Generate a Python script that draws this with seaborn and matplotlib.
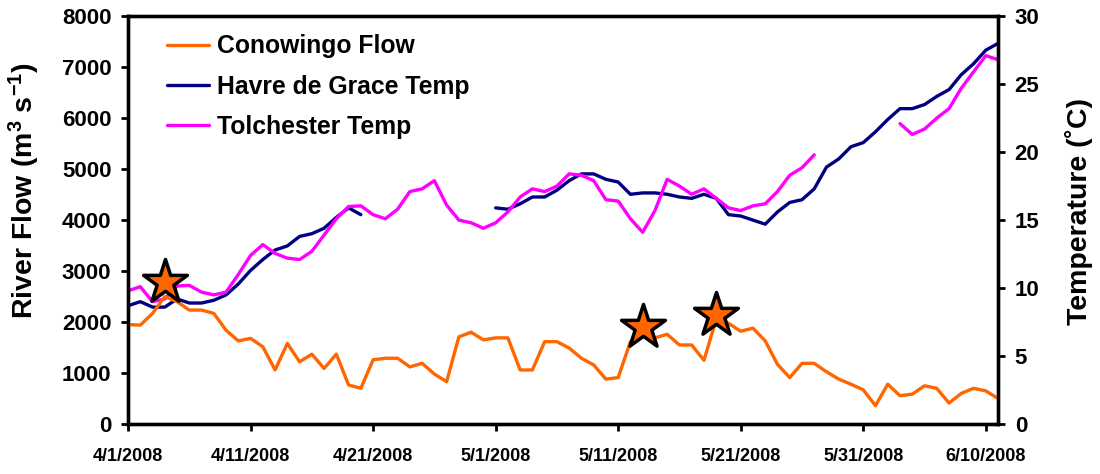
import matplotlib
matplotlib.use("Agg")
import matplotlib.pyplot as plt
from matplotlib.lines import Line2D
import numpy as np
import pandas as pd
import seaborn as sns

# daily values, 4/1/2008 .. 6/11/2008
dates = pd.date_range("2008-04-01", "2008-06-11", freq="D")

conowingo_flow = [
    1950, 1940, 2170, 2500, 2400, 2235, 2235, 2170, 1840, 1630,
    1680, 1515, 1060, 1580, 1220, 1370, 1090, 1370, 765, 700,
    1260, 1290, 1290, 1120, 1190, 980, 830, 1710, 1800, 1650,
    1690, 1690, 1060, 1060, 1615, 1615, 1490, 1290, 1160, 880,
    910, 1615, 1800, 1690, 1760, 1550, 1550, 1250, 2050, 1975,
    1820, 1880, 1630, 1170, 910, 1190, 1190, 1025, 880, 780,
    670, 360, 780, 555, 585, 750, 700, 410, 600, 700,
    650, 500,
]

nan = np.nan
havre_temp = [
    8.7, 9.0, 8.6, 8.6, 9.2, 8.9, 8.9, 9.1, 9.5, 10.3,
    11.3, 12.1, 12.8, 13.1, 13.8, 14.0, 14.4, 15.2, 15.9, 15.4,
    nan, nan, nan, nan, nan, nan, nan, nan, nan, nan,
    15.9, 15.8, 16.2, 16.7, 16.7, 17.2, 17.9, 18.4, 18.4, 18.0,
    17.8, 16.9, 17.0, 17.0, 16.9, 16.7, 16.6, 16.9, 16.6, 15.4,
    15.3, 15.0, 14.7, 15.6, 16.3, 16.5, 17.3, 18.9, 19.5, 20.4,
    20.7, 21.5, 22.4, 23.2, 23.2, 23.5, 24.1, 24.6, 25.7, 26.5,
    27.5, 28.0,
]

tolchester_temp = [
    9.8, 10.1, 9.0, 9.2, 10.15, 10.2, 9.7, 9.5, 9.7, 11.0,
    12.4, 13.2, 12.55, 12.2, 12.1, 12.7, 13.9, 15.1, 16.0, 16.05,
    15.4, 15.1, 15.8, 17.1, 17.3, 17.9, 16.1, 15.0, 14.8, 14.4,
    14.8, 15.6, 16.7, 17.3, 17.1, 17.5, 18.4, 18.3, 17.9, 16.5,
    16.4, 15.1, 14.1, 15.7, 18.0, 17.5, 16.9, 17.3, 16.6, 15.9,
    15.7, 16.05, 16.2, 17.1, 18.3, 18.85, 19.8, nan, nan, nan,
    nan, nan, nan, 22.1, 21.3, 21.7, 22.5, 23.2, 24.7, 25.9,
    27.1, 26.8,
]

star_dates = pd.to_datetime(["2008-04-04", "2008-05-13", "2008-05-19"])
star_flow = [2780, 1900, 2130]

tick_dates = pd.date_range("2008-04-01", "2008-06-10", freq="10D")
tick_labels = [f"{d.month}/{d.day}/{d.year}" for d in tick_dates]

flow_color = "#FF6600"
havre_color = "#000080"
tol_color = "#FF00FF"

sns.set_style("ticks")
plt.rcParams["font.family"] = ["Liberation Sans", "DejaVu Sans"]
plt.rcParams["font.weight"] = "bold"
plt.rcParams["text.color"] = "black"
plt.rcParams["axes.labelcolor"] = "black"
plt.rcParams["xtick.color"] = "black"
plt.rcParams["ytick.color"] = "black"
plt.rcParams["mathtext.fontset"] = "custom"
plt.rcParams["mathtext.rm"] = "Liberation Sans:bold"
plt.rcParams["mathtext.bf"] = "Liberation Sans:bold"
plt.rcParams["mathtext.default"] = "bf"

df = pd.DataFrame({"date": dates, "flow": conowingo_flow,
                   "havre": havre_temp, "tol": tolchester_temp})


def draw_segments(ax, col, color):
    # draw each run of non-missing values separately so gaps stay gaps
    valid = df[col].notna()
    run_id = (valid != valid.shift()).cumsum()
    for _, part in df[valid].groupby(run_id[valid]):
        sns.lineplot(data=part, x="date", y=col, color=color, lw=2.4,
                     ax=ax, legend=False)


fig = plt.figure(figsize=(11, 4.74), dpi=100)
ax = fig.add_axes([0.1164, 0.1055, 0.7909, 0.8603])
ax2 = ax.twinx()

draw_segments(ax2, "havre", havre_color)
draw_segments(ax2, "tol", tol_color)
draw_segments(ax, "flow", flow_color)
sns.scatterplot(x=star_dates, y=star_flow, marker="*", s=1100,
                color=flow_color, edgecolor="black", linewidth=2.5,
                ax=ax, zorder=5, legend=False)

ax.set_zorder(ax2.get_zorder() + 1)
ax.patch.set_visible(False)

ax.set_xlim(dates[0], dates[-1])
ax.set_ylim(0, 8000)
ax2.set_ylim(0, 30)
ax.set_yticks(np.arange(0, 8001, 1000))
ax2.set_yticks(np.arange(0, 31, 5))
ax.set_xticks(tick_dates)
ax.set_xticklabels(tick_labels, fontsize=13, fontweight="bold")

for a in (ax, ax2):
    a.tick_params(axis="both", length=5, width=2, labelsize=16, pad=7)
    for s in a.spines.values():
        s.set_linewidth(2.4)
        s.set_color("black")
ax.tick_params(axis="x", labelsize=13, pad=12)

ax.set_xlabel("")
ax.set_ylabel(r"River Flow (m$^{3}$ s$^{-1}$)", fontsize=20.5, fontweight="bold")
ax2.set_ylabel("Temperature (˚C)", fontsize=20.5, fontweight="bold")
ax.yaxis.set_label_coords(-0.099, 0.571)
ax2.yaxis.set_label_coords(1.077, 0.52)

handles = [Line2D([], [], color=flow_color, lw=2.4),
           Line2D([], [], color=havre_color, lw=2.4),
           Line2D([], [], color=tol_color, lw=2.4)]
ax.legend(handles, ["Conowingo Flow", "Havre de Grace Temp", "Tolchester Temp"],
          loc="upper left", bbox_to_anchor=(0.033, 0.98), frameon=False,
          prop={"size": 17.8, "weight": "bold"}, handlelength=1.72,
          labelspacing=0.66, borderaxespad=0.0, handletextpad=0.3)

fig.savefig("out.png", dpi=100)
